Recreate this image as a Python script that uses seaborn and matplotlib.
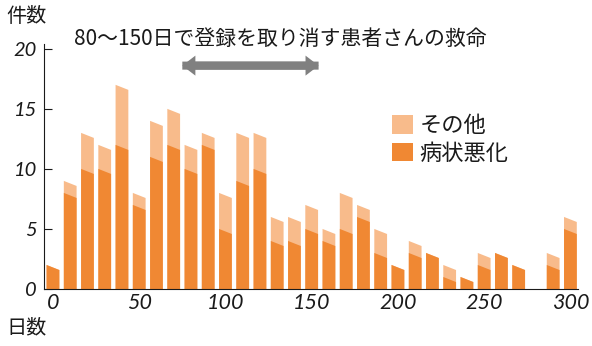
import matplotlib
matplotlib.use("Agg")
import matplotlib.pyplot as plt
from matplotlib.patches import Polygon, Patch, FancyArrowPatch
import seaborn as sns

# 日数 (10日刻み) ごとの件数
days = list(range(0, 301, 10))
total_counts = [2, 9, 13, 12, 17, 8, 14, 15, 12, 13, 8, 13, 13, 6, 6, 7,
                5, 8, 7, 5, 2, 4, 3, 2, 1, 3, 3, 2, 0, 3, 6]
worsened_counts = [2, 8, 10, 10, 12, 7, 11, 12, 10, 12, 5, 9, 10, 4, 4, 5,
                   4, 5, 6, 3, 2, 3, 3, 1, 1, 2, 3, 2, 0, 2, 5]
series_labels = ["その他", "病状悪化"]
x_ticks = [0, 50, 100, 150, 200, 250, 300]
y_ticks = [0, 5, 10, 15, 20]
arrow_span = (75, 154)
title_text = "80～150日で登録を取り消す患者さんの救命"

LIGHT = "#F8BB8B"
DARK = "#F08833"
GRAY = "#808080"
INK = "#1a1a1a"

sns.set_style("ticks")
plt.rcParams["font.family"] = ["Noto Sans CJK JP", "DejaVu Sans"]

fig = plt.figure(figsize=(5.92, 3.46), dpi=100)
W, H = 592, 346
ax = fig.add_axes([44 / W, 1 - 289 / H, (578 - 44) / W, (289 - 44) / H])

# 合計を淡色で、その上に病状悪化を濃色で重ねる
sns.barplot(x=days, y=total_counts, native_scale=True, width=0.74,
            color=LIGHT, saturation=1, errorbar=None, ax=ax)
sns.barplot(x=days, y=worsened_counts, native_scale=True, width=0.74,
            color=DARK, saturation=1, errorbar=None, ax=ax)

# 棒の上端を斜めにカットした形に置き換える
drop = 0.42
for p in list(ax.patches):
    x0, w, h = p.get_x(), p.get_width(), p.get_height()
    fc = p.get_facecolor()
    z = p.get_zorder()
    p.remove()
    if h <= 0:
        continue
    ax.add_patch(Polygon([(x0, 0), (x0, h), (x0 + w, h - drop), (x0 + w, 0)],
                         closed=True, facecolor=fc, edgecolor="none",
                         linewidth=0, zorder=z))

ax.set_xlim(-5.2, 304.4)
ax.set_ylim(0, 20.4)
ax.set_xticks(x_ticks)
ax.set_yticks(y_ticks)
ax.set_xlabel("")
ax.set_ylabel("")

num_font = dict(family="Lato", style="italic", weight="normal")
ax.set_xticklabels([str(v) for v in x_ticks], fontsize=15.5, color=INK, **num_font)
ax.set_yticklabels([str(v) for v in y_ticks], fontsize=14.5, color=INK, **num_font)
ax.tick_params(axis="y", direction="in", length=6, width=0.8, pad=5,
               color=INK, labelcolor=INK)
ax.tick_params(axis="x", length=0, pad=3, labelcolor=INK)

for side in ("top", "right"):
    ax.spines[side].set_visible(False)
for side in ("left", "bottom"):
    ax.spines[side].set_linewidth(0.8)
    ax.spines[side].set_color(INK)

# 期間を示す両矢印 (向きの異なる2本を重ねる)
y_arrow = 18.6
style = "simple,head_length=9.4,head_width=14.4,tail_width=5.8"
for start, end in (arrow_span, arrow_span[::-1]):
    ax.add_patch(FancyArrowPatch((start, y_arrow), (end, y_arrow), arrowstyle=style,
                                 mutation_scale=1, shrinkA=0, shrinkB=0,
                                 color=GRAY, linewidth=0, clip_on=False))

fig.text(280 / W, 1 - 39 / H, title_text, ha="center", va="center",
         fontsize=15, color=INK)
fig.text(6 / W, 1 - 17 / H, "件数", ha="left", va="center", fontsize=14.5, color=INK)
fig.text(6 / W, 1 - 328 / H, "日数", ha="left", va="center", fontsize=14.5, color=INK)

handles = [Patch(facecolor=LIGHT, edgecolor="none"),
           Patch(facecolor=DARK, edgecolor="none")]
fig.legend(handles, series_labels, loc="upper left",
           bbox_to_anchor=(392 / W, 1 - 114 / H), frameon=False,
           fontsize=16, handlelength=0.95, handleheight=0.9,
           handletextpad=0.3, labelspacing=0.22, borderpad=0,
           borderaxespad=0, labelcolor=INK)

fig.savefig("out.png", dpi=100)
